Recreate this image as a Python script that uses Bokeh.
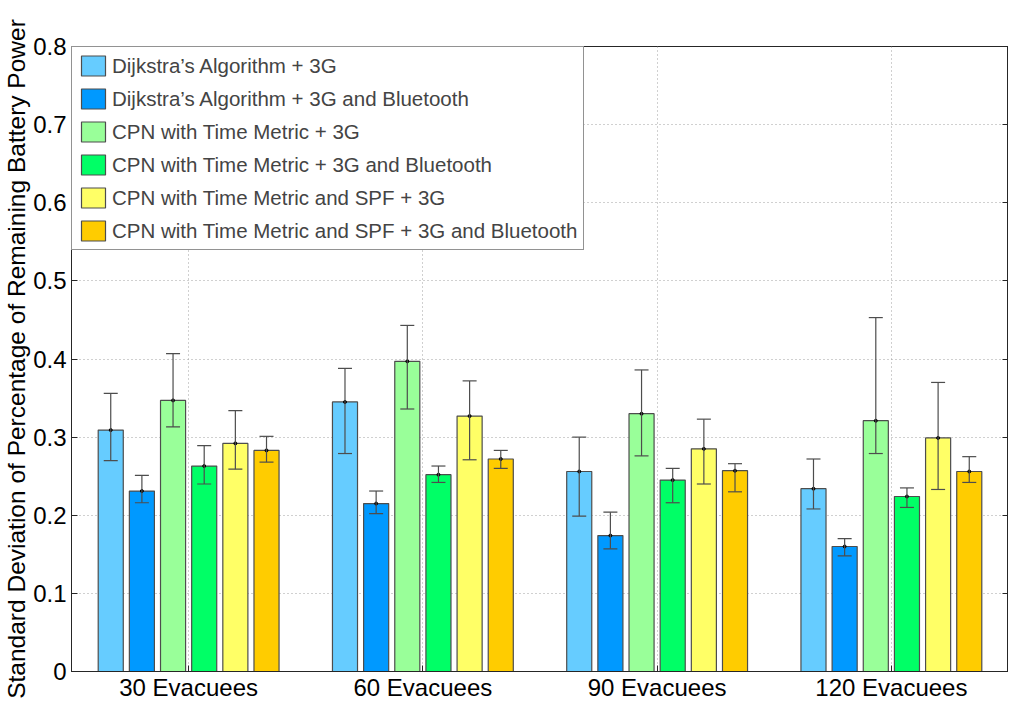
from bokeh.plotting import figure
from bokeh.models import (ColumnDataSource, FixedTicker, LinearAxis, Whisker, TeeHead,
                          Legend, LegendItem, Range1d)
from bokeh.embed import file_html
from bokeh.resources import INLINE

categories = ["30 Evacuees", "60 Evacuees", "90 Evacuees", "120 Evacuees"]
y_ticks = [0.0, 0.1, 0.2, 0.3, 0.4, 0.5, 0.6, 0.7, 0.8]

series_names = [
    "Dijkstra\u2019s Algorithm + 3G",
    "Dijkstra\u2019s Algorithm + 3G and Bluetooth",
    "CPN with Time Metric + 3G",
    "CPN with Time Metric + 3G and Bluetooth",
    "CPN with Time Metric and SPF + 3G",
    "CPN with Time Metric and SPF + 3G and Bluetooth",
]
series_colors = ["#66CCFF", "#0099FF", "#99FF99", "#00FF66", "#FFFF66", "#FFCC00"]

# mean values per series (one per category)
dijkstra_3g = [0.309, 0.345, 0.256, 0.234]
dijkstra_3g_bt = [0.231, 0.215, 0.174, 0.160]
cpn_time_3g = [0.347, 0.397, 0.330, 0.321]
cpn_time_3g_bt = [0.263, 0.252, 0.245, 0.224]
cpn_spf_3g = [0.292, 0.327, 0.285, 0.299]
cpn_spf_3g_bt = [0.283, 0.272, 0.257, 0.256]

# error bar ends (upper / lower)
dijkstra_3g_hi = [0.356, 0.388, 0.300, 0.272]
dijkstra_3g_lo = [0.270, 0.279, 0.199, 0.208]
dijkstra_3g_bt_hi = [0.251, 0.231, 0.204, 0.170]
dijkstra_3g_bt_lo = [0.216, 0.202, 0.157, 0.148]
cpn_time_3g_hi = [0.407, 0.443, 0.386, 0.453]
cpn_time_3g_lo = [0.313, 0.336, 0.276, 0.279]
cpn_time_3g_bt_hi = [0.289, 0.263, 0.260, 0.235]
cpn_time_3g_bt_lo = [0.240, 0.242, 0.216, 0.210]
cpn_spf_3g_hi = [0.334, 0.372, 0.323, 0.370]
cpn_spf_3g_lo = [0.259, 0.271, 0.240, 0.233]
cpn_spf_3g_bt_hi = [0.301, 0.283, 0.266, 0.275]
cpn_spf_3g_bt_lo = [0.268, 0.260, 0.230, 0.242]

means = [dijkstra_3g, dijkstra_3g_bt, cpn_time_3g, cpn_time_3g_bt, cpn_spf_3g, cpn_spf_3g_bt]
uppers = [dijkstra_3g_hi, dijkstra_3g_bt_hi, cpn_time_3g_hi, cpn_time_3g_bt_hi,
          cpn_spf_3g_hi, cpn_spf_3g_bt_hi]
lowers = [dijkstra_3g_lo, dijkstra_3g_bt_lo, cpn_time_3g_lo, cpn_time_3g_bt_lo,
          cpn_spf_3g_lo, cpn_spf_3g_bt_lo]

FONT = "Liberation Sans"
AXIS_COLOR = "#262626"
EDGE = "#4d4d4d"

p = figure(
    width=1008, height=703,
    x_range=Range1d(0.5, 4.5), y_range=Range1d(0, 0.8),
    output_backend="svg", toolbar_location=None,
    min_border_left=69, min_border_right=0, min_border_top=46, min_border_bottom=32,
)
p.background_fill_color = "white"
p.border_fill_color = "white"
p.outline_line_color = AXIS_COLOR
p.outline_line_width = 1

spacing = 0.133
bar_width = 0.107
n = len(series_names)
positions = list(range(1, len(categories) + 1))

items = []
for i in range(n):
    offset = (i - (n - 1) / 2) * spacing
    src = ColumnDataSource(dict(
        x=[c + offset for c in positions],
        top=means[i],
        upper=uppers[i],
        lower=lowers[i],
    ))
    r = p.vbar(x="x", top="top", width=bar_width, source=src,
               fill_color=series_colors[i], line_color=EDGE, line_width=1.2)
    whisk = Whisker(base="x", upper="upper", lower="lower", source=src,
                    level="overlay", line_color=EDGE, line_width=1.2,
                    upper_head=TeeHead(size=14, line_color=EDGE, line_width=1.2),
                    lower_head=TeeHead(size=14, line_color=EDGE, line_width=1.2))
    p.add_layout(whisk)
    p.scatter(x="x", y="top", source=src, size=3, color="black", level="overlay")
    items.append(LegendItem(label=series_names[i], renderers=[r]))

# axes
p.xaxis.ticker = FixedTicker(ticks=positions)
p.xaxis.major_label_overrides = {pos: lab for pos, lab in zip(positions, categories)}
p.yaxis.ticker = FixedTicker(ticks=y_ticks)
p.yaxis.major_label_overrides = {0: "0"}
p.yaxis.axis_label = "Standard Deviation of Percentage of Remaining Battery Power"

for ax in [p.xaxis[0], p.yaxis[0]]:
    ax.major_tick_in = 6
    ax.major_tick_out = 0
    ax.minor_tick_line_color = None
    ax.axis_line_color = AXIS_COLOR
    ax.major_tick_line_color = AXIS_COLOR
    ax.major_label_text_font = FONT
    ax.major_label_text_color = "black"
p.xaxis.major_label_text_font_size = "24px"
p.yaxis.major_label_text_font_size = "24px"
p.xaxis.major_label_standoff = 2
p.yaxis.major_label_standoff = 5
p.yaxis.axis_label_text_font = FONT
p.yaxis.axis_label_text_font_size = "24.5px"
p.yaxis.axis_label_text_font_style = "normal"
p.yaxis.axis_label_text_color = "black"
p.yaxis.axis_label_standoff = 0

right = LinearAxis(ticker=FixedTicker(ticks=y_ticks), major_tick_in=6, major_tick_out=0,
                   minor_tick_line_color=None, major_label_text_font_size="0px",
                   major_label_standoff=0,
                   axis_line_color=AXIS_COLOR, major_tick_line_color=AXIS_COLOR)
p.add_layout(right, "right")

# grid
for g in [p.xgrid[0], p.ygrid[0]]:
    g.grid_line_color = "#a0a0a0"
    g.grid_line_dash = "1 3"
    g.grid_line_width = 1
p.xgrid.ticker = FixedTicker(ticks=positions)
p.ygrid.ticker = FixedTicker(ticks=y_ticks)

legend = Legend(items=items, location="top_left", margin=0, padding=6, spacing=8,
                glyph_width=30, glyph_height=25, label_height=25,
                label_text_font=FONT, label_text_font_size="20.5px",
                label_standoff=4,
                border_line_color=AXIS_COLOR, border_line_width=1,
                background_fill_alpha=1.0)
p.add_layout(legend)

open("out.html", "w").write(file_html(p, INLINE))
